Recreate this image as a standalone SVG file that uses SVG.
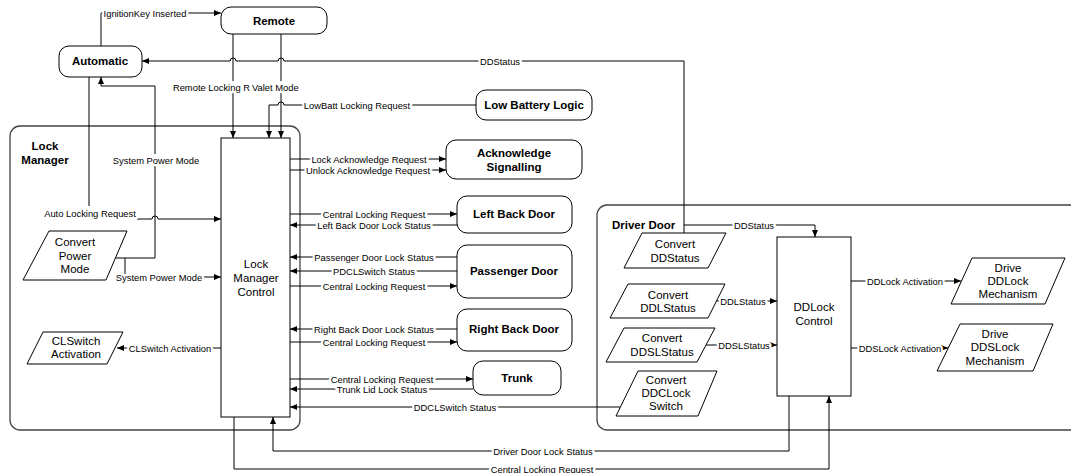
<svg xmlns="http://www.w3.org/2000/svg" width="1071" height="473" viewBox="0 0 1071 473">
<style>
.bg{fill:#fff}
.cont{fill:none;stroke:#444;stroke-width:1.3}
.node{fill:#fff;stroke:#000;stroke-width:1}
.conn path{fill:none;stroke:#000;stroke-width:1}
.arr{marker-end:url(#ah)}
.bt{font-family:"Liberation Sans",Arial,sans-serif;font-size:11.5px;font-weight:bold;text-anchor:middle;dominant-baseline:central;fill:#000}
.nt{font-family:"Liberation Sans",Arial,sans-serif;font-size:11.5px;text-anchor:middle;dominant-baseline:central;fill:#000}
.ct{font-family:"Liberation Sans",Arial,sans-serif;font-size:11.5px;font-weight:bold;dominant-baseline:central;fill:#000}
.lbl{font-family:"Liberation Sans",Arial,sans-serif;font-size:9.4px;text-anchor:middle;dominant-baseline:central;fill:#000;stroke:#fff;stroke-width:4.5;stroke-linejoin:round;paint-order:stroke}
</style>
<defs>
<marker id="ah" markerUnits="userSpaceOnUse" markerWidth="8" markerHeight="6" refX="7" refY="3" orient="auto">
<path d="M0,0 L7,3 L0,6 z" fill="#000"/>
</marker>
</defs>
<rect class="bg" x="0" y="0" width="1071" height="473"/>

<g id="lock-manager">
<rect class="cont" x="10" y="126" width="290" height="304" rx="10"/>
<text class="bt" x="45" y="146">Lock</text>
<text class="bt" x="45" y="160">Manager</text>
</g>
<g id="driver-door">
<rect class="cont" x="597" y="205" width="500" height="225" rx="10"/>
<text class="ct" x="612" y="225">Driver Door</text>
</g>

<g id="connectors" class="conn">
<path class="arr" d="M101,46 V13 H221"/>
<path class="arr" d="M684,233 V61 H284 a3,3 0 0 0 -6,0 H236 a3,3 0 0 0 -6,0 H142"/>
<path class="arr" d="M684,225 H815 V237"/>
<path class="arr" d="M233,34 V81 M233,93 V138"/>
<path class="arr" d="M281,34 V81 M281,93 V138"/>
<path class="arr" d="M476,105 H284 a3,3 0 0 0 -6,0 H269 V138"/>
<path d="M89,77 V206"/>
<path class="arr" d="M137,219 H152 a3,3 0 0 1 6,0 H221"/>
<path class="arr" d="M115,258 H155 V166 M155,154 V86 H101 V77"/>
<path class="arr" d="M125,258 V277 H221"/>
<path class="arr" d="M221,348 H117"/>
<path class="arr" d="M290,159 H446"/>
<path class="arr" d="M290,170 H446"/>
<path class="arr" d="M290,214 H457"/>
<path class="arr" d="M457,225 H290"/>
<path class="arr" d="M457,257 H290"/>
<path class="arr" d="M457,271 H290"/>
<path class="arr" d="M290,286 H457"/>
<path class="arr" d="M457,329 H290"/>
<path class="arr" d="M290,342 H457"/>
<path class="arr" d="M290,379 H473"/>
<path class="arr" d="M473,389 H290"/>
<path class="arr" d="M620,407 H290"/>
<path class="arr" d="M789,396 V451 H273 V417"/>
<path class="arr" d="M234,417 V469 H829 V396"/>
<path class="arr" d="M716,301 H777"/>
<path class="arr" d="M705,345 H777"/>
<path class="arr" d="M851,281 H961"/>
<path class="arr" d="M851,348 H948"/>

<text class="lbl" x="145" y="13">IgnitionKey Inserted</text>
<text class="lbl" x="500" y="61">DDStatus</text>
<text class="lbl" x="250" y="87" style="text-anchor:end">Remote Locking R</text>
<text class="lbl" x="252" y="87" style="text-anchor:start">Valet Mode</text>
<text class="lbl" x="357" y="105">LowBatt Locking Request</text>
<text class="lbl" x="156" y="160">System Power Mode</text>
<text class="lbl" x="90" y="213">Auto Locking Request</text>
<text class="lbl" x="159" y="277">System Power Mode</text>
<text class="lbl" x="170" y="348">CLSwitch Activation</text>
<text class="lbl" x="369" y="159">Lock Acknowledge Request</text>
<text class="lbl" x="368" y="170">Unlock Acknowledge Request</text>
<text class="lbl" x="374" y="214">Central Locking Request</text>
<text class="lbl" x="374" y="225">Left Back Door Lock Status</text>
<text class="lbl" x="374" y="257">Passenger Door Lock Status</text>
<text class="lbl" x="374" y="271">PDCLSwitch Status</text>
<text class="lbl" x="374" y="286">Central Locking Request</text>
<text class="lbl" x="374" y="329">Right Back Door Lock Status</text>
<text class="lbl" x="374" y="342">Central Locking Request</text>
<text class="lbl" x="382" y="379">Central Locking Request</text>
<text class="lbl" x="382" y="389">Trunk Lid Lock Status</text>
<text class="lbl" x="455" y="407">DDCLSwitch Status</text>
<text class="lbl" x="543" y="451">Driver Door Lock Status</text>
<text class="lbl" x="542" y="469">Central Locking Request</text>
<text class="lbl" x="754" y="225">DDStatus</text>
<text class="lbl" x="743" y="301">DDLStatus</text>
<text class="lbl" x="744" y="345">DDSLStatus</text>
<text class="lbl" x="905" y="281">DDLock Activation</text>
<text class="lbl" x="900" y="348">DDSLock Activation</text>
</g>

<g id="remote">
<rect class="node" x="221" y="7" width="106" height="27" rx="10"/>
<text class="bt" x="274" y="21">Remote</text>
</g>
<g id="automatic">
<rect class="node" x="59" y="46" width="83" height="31" rx="10"/>
<text class="bt" x="100" y="61">Automatic</text>
</g>
<g id="low-battery-logic">
<rect class="node" x="476" y="90" width="116" height="30" rx="10"/>
<text class="bt" x="534" y="105">Low Battery Logic</text>
</g>
<g id="acknowledge-signalling">
<rect class="node" x="446" y="140" width="136" height="39" rx="10"/>
<text class="bt" x="514" y="153">Acknowledge</text>
<text class="bt" x="514" y="167">Signalling</text>
</g>
<g id="left-back-door">
<rect class="node" x="457" y="196" width="115" height="37" rx="10"/>
<text class="bt" x="514" y="214">Left Back Door</text>
</g>
<g id="passenger-door">
<rect class="node" x="457" y="245" width="115" height="53" rx="10"/>
<text class="bt" x="514" y="271">Passenger Door</text>
</g>
<g id="right-back-door">
<rect class="node" x="457" y="309" width="115" height="42" rx="10"/>
<text class="bt" x="514" y="329">Right Back Door</text>
</g>
<g id="trunk">
<rect class="node" x="473" y="361" width="88" height="34" rx="10"/>
<text class="bt" x="517" y="378">Trunk</text>
</g>
<g id="lock-manager-control">
<rect class="node" x="221" y="138" width="69" height="279"/>
<text class="nt" x="256" y="264">Lock</text>
<text class="nt" x="256" y="278">Manager</text>
<text class="nt" x="256" y="292">Control</text>
</g>
<g id="convert-power-mode">
<polygon class="node" points="49,231 127,231 106,280 23,280"/>
<text class="nt" x="75" y="242">Convert</text>
<text class="nt" x="75" y="256">Power</text>
<text class="nt" x="75" y="269">Mode</text>
</g>
<g id="clswitch-activation">
<polygon class="node" points="43,332 123,332 107,364 27,364"/>
<text class="nt" x="76" y="341">CLSwitch</text>
<text class="nt" x="76" y="354">Activation</text>
</g>
<g id="convert-ddstatus">
<polygon class="node" points="642,233 726,233 708,268 624,268"/>
<text class="nt" x="675" y="244">Convert</text>
<text class="nt" x="675" y="258">DDStatus</text>
</g>
<g id="convert-ddlstatus">
<polygon class="node" points="628,284 725,284 708,318 610,318"/>
<text class="nt" x="668" y="295">Convert</text>
<text class="nt" x="668" y="308">DDLStatus</text>
</g>
<g id="convert-ddslstatus">
<polygon class="node" points="624,328 715,328 697,362 606,362"/>
<text class="nt" x="662" y="338">Convert</text>
<text class="nt" x="662" y="352">DDSLStatus</text>
</g>
<g id="convert-ddclock-switch">
<polygon class="node" points="638,371 717,371 698,416 616,416"/>
<text class="nt" x="666" y="380">Convert</text>
<text class="nt" x="666" y="393">DDCLock</text>
<text class="nt" x="666" y="406">Switch</text>
</g>
<g id="ddlock-control">
<rect class="node" x="777" y="237" width="74" height="159"/>
<text class="nt" x="814" y="307">DDLock</text>
<text class="nt" x="814" y="321">Control</text>
</g>
<g id="drive-ddlock-mechanism">
<polygon class="node" points="972,258 1065,258 1045,304 951,304"/>
<text class="nt" x="1008" y="268">Drive</text>
<text class="nt" x="1008" y="281">DDLock</text>
<text class="nt" x="1008" y="294">Mechanism</text>
</g>
<g id="drive-ddslock-mechanism">
<polygon class="node" points="960,324 1053,324 1033,371 937,371"/>
<text class="nt" x="995" y="334">Drive</text>
<text class="nt" x="995" y="347">DDSLock</text>
<text class="nt" x="995" y="361">Mechanism</text>
</g>
</svg>
